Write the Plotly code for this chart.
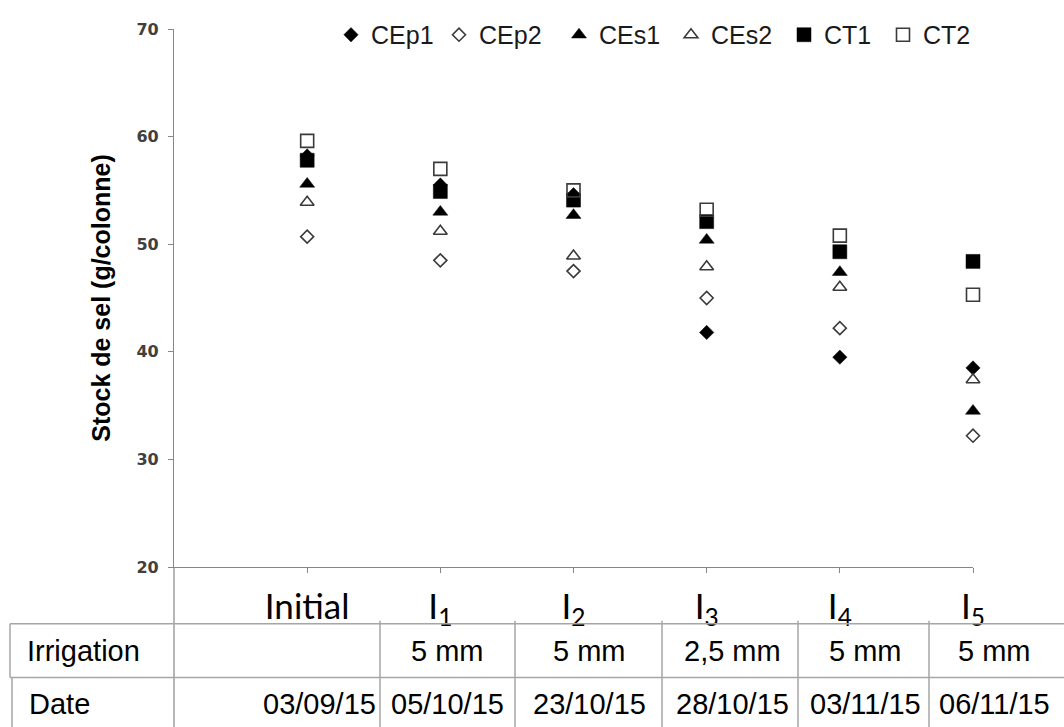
import plotly.graph_objects as go

# ---------------- data ----------------
categories = ["Initial", "I<sub>1</sub>", "I<sub>2</sub>", "I<sub>3</sub>", "I<sub>4</sub>", "I<sub>5</sub>"]
CEp1 = [58.2, 55.5, 54.6, 41.8, 39.5, 38.5]
CEp2 = [50.7, 48.5, 47.5, 45.0, 42.2, 32.2]
CEs1 = [55.6, 53.0, 52.7, 50.4, 47.4, 34.5]
CEs2 = [53.9, 51.2, 48.9, 47.9, 46.0, 37.4]
CT1 = [57.8, 54.9, 54.1, 52.1, 49.3, 48.4]
CT2 = [59.6, 57.0, 55.0, 53.2, 50.8, 45.3]
y_ticks = [20, 30, 40, 50, 60, 70]
row_labels = ["Irrigation", "Date"]
irrigation = ["", "5 mm", "5 mm", "2,5 mm", "5 mm", "5 mm"]
dates = ["03/09/15", "05/10/15", "23/10/15", "28/10/15", "03/11/15", "06/11/15"]

# ---------------- layout constants (pixels) ----------------
W, H = 1064, 727
L, R, T, B = 174, 91, 27, 160
PW = W - L - R
PH = H - T - B
Y0 = T + PH  # pixel y of plot bottom


def px(xp):
    return (xp - L) / PW


def py(yp):
    return (Y0 - yp) / PH


x_idx = list(range(len(categories)))

# (name, values, marker style, legend entry width in px)
series = [
    ("CEp1", CEp1, dict(symbol="diamond", size=11, color="#000000", line=dict(width=0.5, color="#000000")), 63),
    ("CEp2", CEp2, dict(symbol="diamond-open", size=10, color="#3a3a3a", line=dict(width=1.6, color="#3a3a3a")), 75),
    ("CEs1", CEs1, dict(symbol="triangle-up", size=13, color="#000000", line=dict(width=0.5, color="#000000")), 67),
    ("CEs2", CEs2, dict(symbol="triangle-up-open", size=12, color="#3a3a3a", line=dict(width=1.6, color="#3a3a3a")), 68),
    ("CT1", CT1, dict(symbol="square", size=14, color="#000000", line=dict(width=0.5, color="#000000")), 54),
    ("CT2", CT2, dict(symbol="square-open", size=13, color="#3a3a3a", line=dict(width=1.6, color="#3a3a3a")), 50),
]

fig = go.Figure()
for name, vals, mk, lw in series:
    fig.add_trace(go.Scatter(x=x_idx, y=vals, name=name, mode="markers",
                             marker=mk, cliponaxis=False, legendwidth=lw))

axis_col = "#868686"
grid_col = "#a6a6a6"

shapes = []
# y-axis line continues down through the table
shapes.append(dict(type="line", xref="paper", yref="paper", x0=px(L), x1=px(L),
                   y0=py(Y0), y1=py(H + 2), line=dict(color=axis_col, width=1.2)))
# table horizontal lines
for yy in (624, 678):
    shapes.append(dict(type="line", xref="paper", yref="paper", x0=px(10), x1=px(W + 2),
                       y0=py(yy), y1=py(yy), line=dict(color=grid_col, width=1.5)))
# table left borders
shapes.append(dict(type="line", xref="paper", yref="paper", x0=px(10), x1=px(10),
                   y0=py(624), y1=py(678), line=dict(color=grid_col, width=1.5)))
shapes.append(dict(type="line", xref="paper", yref="paper", x0=px(12), x1=px(12),
                   y0=py(678), y1=py(H + 2), line=dict(color=grid_col, width=1.5)))
# column separators
col_edges = [380, 515, 662, 798, 929]
for xx in col_edges:
    shapes.append(dict(type="line", xref="paper", yref="paper", x0=px(xx), x1=px(xx),
                       y0=py(621), y1=py(H + 2), line=dict(color=grid_col, width=1.5)))

annotations = []
tfont = dict(family="Liberation Sans, Arial, sans-serif", size=29, color="#000000")
annotations.append(dict(text=row_labels[0], xref="paper", yref="paper", x=px(25), y=py(651),
                        xanchor="left", yanchor="middle", showarrow=False, font=tfont))
annotations.append(dict(text=row_labels[1], xref="paper", yref="paper", x=px(27), y=py(705),
                        xanchor="left", yanchor="middle", showarrow=False, font=tfont))
col_centers = [None, 447, 589, 732, 865, 994]
for i in range(len(categories)):
    if irrigation[i]:
        annotations.append(dict(text=irrigation[i], xref="paper", yref="paper", x=px(col_centers[i]),
                                y=py(651), xanchor="center", yanchor="middle", showarrow=False, font=tfont))
    if i == 0:
        annotations.append(dict(text=dates[i], xref="paper", yref="paper", x=px(378), y=py(705),
                                xanchor="right", yanchor="middle", showarrow=False, font=tfont))
    else:
        annotations.append(dict(text=dates[i], xref="paper", yref="paper", x=px(col_centers[i]),
                                y=py(705), xanchor="center", yanchor="middle", showarrow=False, font=tfont))

fig.update_layout(
    width=W, height=H, autosize=False,
    margin=dict(l=L, r=R, t=T, b=B, pad=0),
    paper_bgcolor="white", plot_bgcolor="white",
    showlegend=True,
    legend=dict(orientation="h", x=px(331), y=py(33), xanchor="left", yanchor="middle",
                font=dict(family="Liberation Sans, Arial, sans-serif", size=25, color="#1a1a1a"),
                bgcolor="rgba(0,0,0,0)", itemwidth=30, tracegroupgap=0),
    xaxis=dict(range=[-1, 5], tickmode="array", tickvals=x_idx, ticktext=categories,
               showgrid=False, zeroline=False, showline=True, linecolor=axis_col, linewidth=1.2,
               ticks="outside", ticklen=5, tickcolor=axis_col, tickwidth=1.2,
               tickfont=dict(family="Lato, sans-serif", size=35, color="#000000"),
               ticklabelstandoff=4),
    yaxis=dict(range=[20, 70], tickmode="array", tickvals=y_ticks,
               showgrid=False, zeroline=False, showline=True, linecolor=axis_col, linewidth=1.2,
               ticks="outside", ticklen=5, tickcolor=axis_col, tickwidth=1.2,
               tickfont=dict(family="DejaVu Sans, sans-serif", size=16, color="#404040", weight="bold"),
               ticklabelstandoff=6,
               title=dict(text="Stock de sel (g/colonne)", standoff=18,
                          font=dict(family="Liberation Sans, Arial, sans-serif", size=25,
                                    color="#000000", weight="bold"))),
    shapes=shapes,
    annotations=annotations,
)

fig.write_html("out.html", config={"displayModeBar": False},
               post_script="document.body.style.margin='0';document.body.style.padding='0';")
